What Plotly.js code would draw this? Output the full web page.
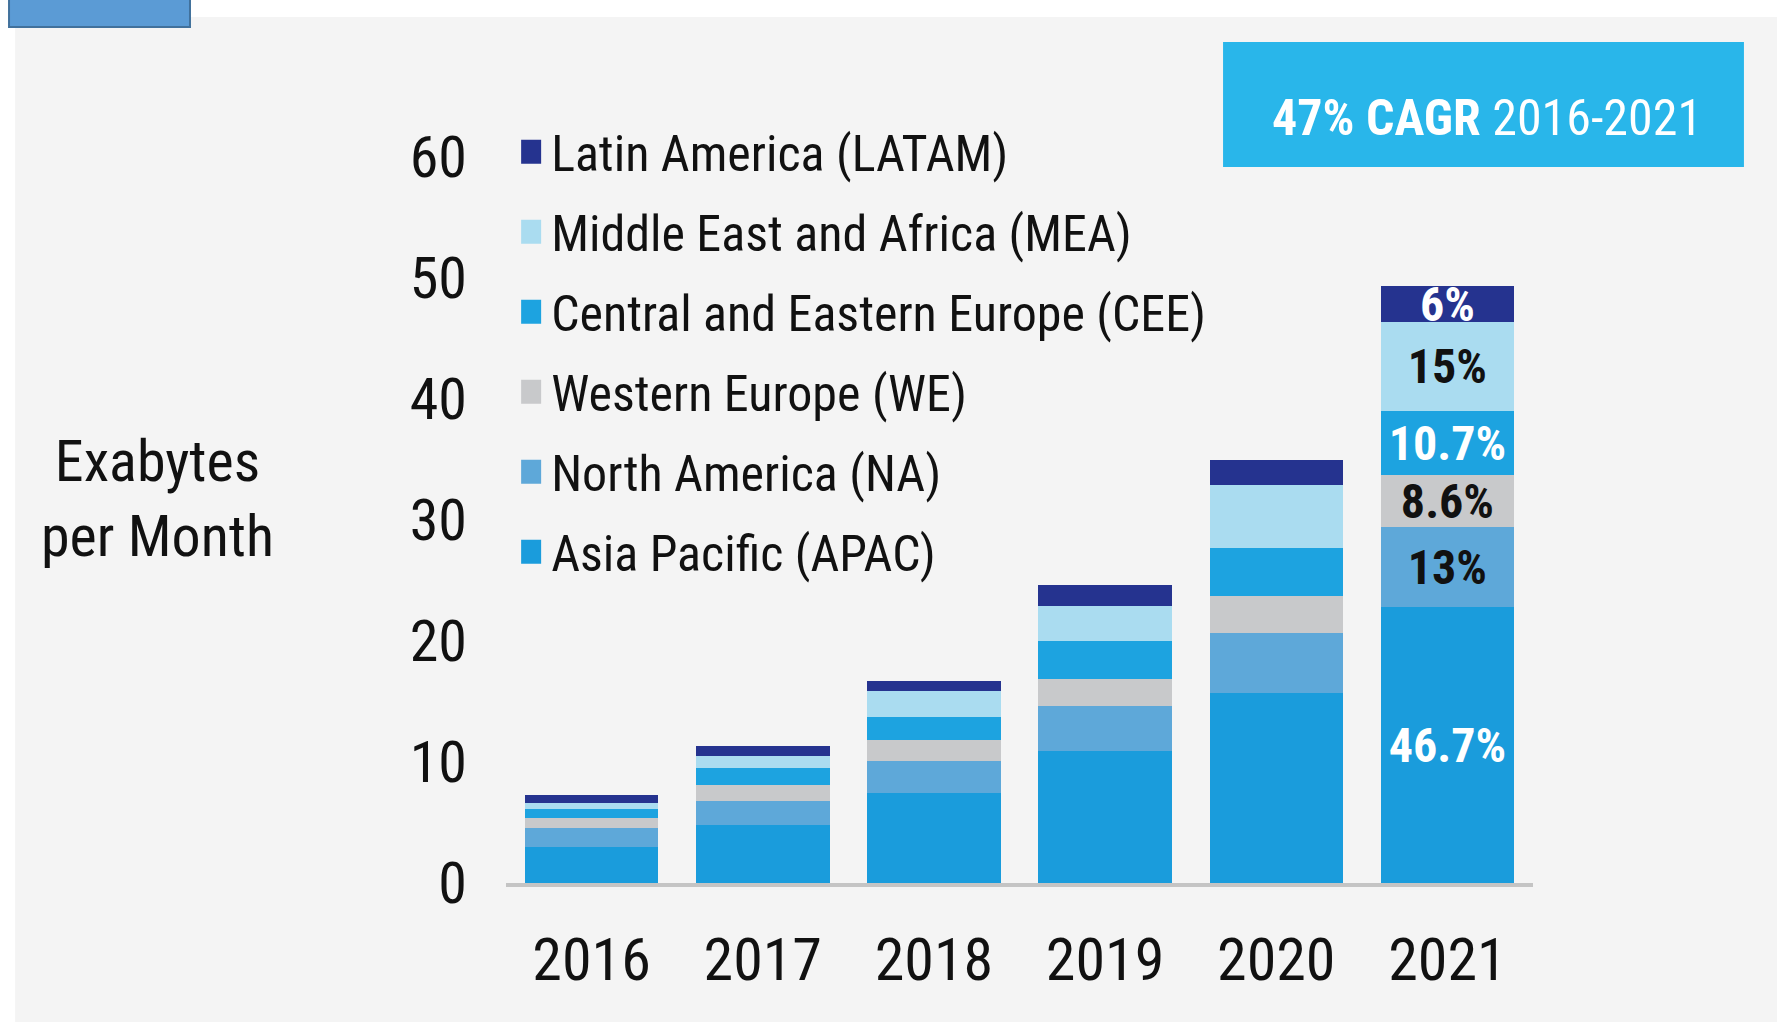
<!DOCTYPE html>
<html>
<head>
<meta charset="utf-8">
<script src="https://cdn.plot.ly/plotly-3.0.1.min.js"></script>
<style>
  html, body { margin: 0; padding: 0; background: #ffffff; }
  #chart { width: 1777px; height: 1022px; }
</style>
</head>
<body>
<div id="chart"></div>
<script>
// ---- data (Exabytes per month) ----
var years = ['2016', '2017', '2018', '2019', '2020', '2021'];
var apac  = [2.95, 4.8, 7.4, 10.9, 15.7, 22.8];
var na    = [1.57, 2.0, 2.7, 3.7, 5.0, 6.6];
var we    = [0.83, 1.3, 1.75, 2.3, 3.0, 4.3];
var cee   = [0.74, 1.4, 1.85, 3.1, 4.0, 5.3];
var mea   = [0.5, 1.0, 2.2, 2.9, 5.2, 7.4];
var latam = [0.68, 0.85, 0.8, 1.7, 2.05, 2.9];

var seriesNames = [
  'Asia Pacific (APAC)',
  'North America (NA)',
  'Western Europe (WE)',
  'Central and Eastern Europe (CEE)',
  'Middle East and Africa (MEA)',
  'Latin America (LATAM)'
];
// share labels shown on the 2021 bar, in the same order as seriesNames
var share2021 = ['46.7%', '13%', '8.6%', '10.7%', '15%', '6%'];
var yTicks = [0, 10, 20, 30, 40, 50, 60];
var cagrLabel = '<b>47% CAGR</b> 2016-2021';
var yTitle = 'Exabytes<br>per Month';

// ---- styles ----
var FONT = '"Liberation Sans Narrow", "Roboto Condensed", "DejaVu Sans Condensed", "Arial Narrow", "Liberation Sans", sans-serif';
var colors = ['#1a9cdc', '#5ea8d9', '#c8c9cb', '#1da3e0', '#aadcf0', '#25338f'];
var textColors = ['#ffffff', '#111111', '#111111', '#ffffff', '#111111', '#ffffff'];
var values = [apac, na, we, cee, mea, latam];

var traces = values.map(function (v, i) {
  var txt = years.map(function (y, j) { return j === years.length - 1 ? share2021[i] : ''; });
  return {
    type: 'bar',
    name: seriesNames[i],
    x: years,
    y: v,
    legendgroup: 'g' + i,
    legendrank: values.length - i,
    marker: { color: colors[i], line: { width: 0 } },
    text: txt,
    textposition: 'inside',
    insidetextanchor: 'middle',
    constraintext: 'none',
    textangle: 0,
    textfont: { family: FONT, size: 48, color: textColors[i], weight: 'bold' },
    hoverinfo: 'x+y+name'
  };
});

var layout = {
  width: 1777,
  height: 1022,
  margin: { l: 506, r: 244, t: 157, b: 139, pad: 0 },
  paper_bgcolor: '#ffffff',
  plot_bgcolor: 'rgba(0,0,0,0)',
  barmode: 'stack',
  bargap: 0.22,
  showlegend: true,
  font: { family: FONT, color: '#111111' },
  xaxis: {
    type: 'category',
    showgrid: false,
    zeroline: false,
    showline: true,
    linecolor: '#c4c4c4',
    linewidth: 4,
    ticks: '',
    ticklabelstandoff: 21,
    tickfont: { family: FONT, size: 60, color: '#111111' },
    fixedrange: true
  },
  yaxis: {
    range: [0, 60],
    tickvals: yTicks,
    ticktext: yTicks.map(String),
    showgrid: false,
    zeroline: false,
    showline: false,
    ticks: '',
    ticklabelstandoff: 38,
    tickfont: { family: FONT, size: 58, color: '#111111' },
    fixedrange: true
  },
  legend: {
    x: 0.005,
    xanchor: 'left',
    y: 1.061,
    yanchor: 'top',
    bgcolor: 'rgba(0,0,0,0)',
    borderwidth: 0,
    traceorder: 'grouped',
    tracegroupgap: 12,
    font: { family: FONT, size: 50, color: '#111111' }
  },
  shapes: [
    { type: 'rect', xref: 'paper', yref: 'paper', layer: 'below',
      x0: -0.478, x1: 1.25, y0: -0.25, y1: 1.1928,
      fillcolor: '#f4f4f4', line: { width: 0 } },
    { type: 'rect', xref: 'paper', yref: 'paper', layer: 'above',
      x0: -0.4839, x1: -0.3077, y0: 1.1791, y1: 1.225,
      fillcolor: '#5b9bd5', line: { color: '#41719c', width: 2 } },
    { type: 'rect', xref: 'paper', yref: 'paper', layer: 'above',
      x0: 0.6982, x1: 1.2054, y0: 0.9862, y1: 1.1584,
      fillcolor: '#29b6ea', line: { width: 0 } }
  ],
  annotations: [
    { xref: 'paper', yref: 'paper', x: -0.3389, y: 0.5296,
      xanchor: 'center', yanchor: 'middle', showarrow: false,
      text: yTitle, align: 'center',
      font: { family: FONT, size: 58, color: '#111111' } },
    { xref: 'paper', yref: 'paper', x: 0.9552, y: 1.0544,
      xanchor: 'center', yanchor: 'middle', showarrow: false,
      text: cagrLabel,
      font: { family: FONT, size: 50, color: '#ffffff' } }
  ]
};

function enlargeSwatches() {
  // enlarge the legend swatches to match the reference's larger square markers
  var paths = document.querySelectorAll('#chart g.legendpoints path');
  for (var k = 0; k < paths.length; k++) {
    paths[k].setAttribute('d', 'M10,12H-10V-12H10Z');
  }
}

Plotly.newPlot('chart', traces, layout, { displayModeBar: false, staticPlot: true }).then(function () {
  enlargeSwatches();
  setTimeout(enlargeSwatches, 50);
  setTimeout(enlargeSwatches, 300);
});
</script>
</body>
</html>
